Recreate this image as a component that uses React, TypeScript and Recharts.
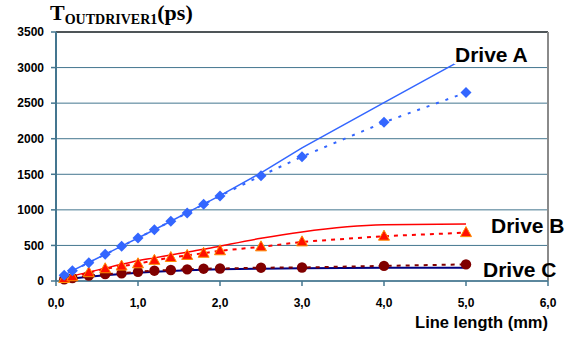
import React from 'react';
import { LineChart, Line, XAxis, YAxis, CartesianGrid, ReferenceLine } from 'recharts';

const lengths = [0.1, 0.2, 0.4, 0.6, 0.8, 1.0, 1.2, 1.4, 1.6, 1.8, 2.0, 2.5, 3.0, 4.0, 5.0];
const driveASim = [80, 145, 260, 375, 490, 605, 720, 840, 960, 1080, 1200, 1520, 1870, 2507, 3140];
const driveAMeas = [80, 145, 257, 375, 487, 604, 722, 839, 956, 1078, 1195, 1480, 1748, 2231, 2648];
const driveBSim = [40, 70, 125, 180, 235, 285, 325, 365, 405, 445, 490, 600, 690, 790, 800];
const driveBMeas = [35, 60, 117, 172, 210, 242, 290, 330, 360, 390, 425, 480, 550, 630, 680];
const driveCSim = [20, 35, 60, 80, 100, 115, 130, 140, 150, 158, 165, 172, 180, 186, 188];
const driveCMeas = [24, 40, 75, 96, 108, 129, 145, 155, 164, 173, 175, 187, 190, 213, 233];
const xTicks = [0, 1, 2, 3, 4, 5, 6];
const yTicks = [0, 500, 1000, 1500, 2000, 2500, 3000, 3500];
const seriesLabels = ['Drive A', 'Drive B', 'Drive C'];

const data = lengths.map((x, i) => ({
  x,
  aSim: driveASim[i],
  aMeas: driveAMeas[i],
  bSim: driveBSim[i],
  bMeas: driveBMeas[i],
  cSim: driveCSim[i],
  cMeas: driveCMeas[i],
}));

const GRID = '#44768F';
const BLUE = '#3366FF';
const RED = '#FF0000';
const DARKRED = '#800000';
const NAVY = '#000080';
const SANS = '"Liberation Sans", Arial, sans-serif';
const SERIF = '"Liberation Serif", "Times New Roman", serif';

const Diamond = (props: any) => {
  const { cx, cy, index } = props;
  if (cx == null || cy == null) return <g key={`d${index}`} />;
  const s = 5.5;
  return (
    <path
      key={`d${index}`}
      d={`M${cx},${cy - s}L${cx + s},${cy}L${cx},${cy + s}L${cx - s},${cy}Z`}
      fill={BLUE}
    />
  );
};

const Triangle = (props: any) => {
  const { cx, cy, index } = props;
  if (cx == null || cy == null) return <g key={`t${index}`} />;
  return (
    <path
      key={`t${index}`}
      d={`M${cx},${cy - 6}L${cx + 5.5},${cy + 4}L${cx - 5.5},${cy + 4}Z`}
      fill="#FF1000"
      stroke="#FF8C00"
      strokeWidth={1}
      strokeLinejoin="round"
    />
  );
};

const Dot = (props: any) => {
  const { cx, cy, index } = props;
  if (cx == null || cy == null) return <g key={`c${index}`} />;
  return <circle key={`c${index}`} cx={cx} cy={cy} r={5.2} fill={DARKRED} />;
};

const fmtX = (v: number) => v.toFixed(1).replace('.', ',');

const tickStyle = { fontFamily: SANS, fontWeight: 'bold', fontSize: 12, fill: '#000' };

export default function App() {
  return (
    <div style={{ position: 'absolute', left: 0, top: 0, width: 574, height: 338, background: '#fff' }}>
      <LineChart
        width={574}
        height={338}
        data={data}
        margin={{ top: 32, right: 26, left: 0, bottom: 0 }}
      >
        <CartesianGrid vertical={false} stroke={GRID} strokeWidth={1} />
        <XAxis
          type="number"
          dataKey="x"
          domain={[0, 6]}
          ticks={xTicks}
          tickFormatter={fmtX}
          height={57}
          tickSize={5}
          tickMargin={12}
          axisLine={{ stroke: GRID, strokeWidth: 1.5 }}
          tickLine={{ stroke: GRID, strokeWidth: 1.5 }}
          tick={tickStyle}
          interval={0}
        />
        <YAxis
          type="number"
          domain={[0, 3500]}
          ticks={yTicks}
          width={56}
          tickSize={5}
          tickMargin={7}
          axisLine={{ stroke: GRID, strokeWidth: 2 }}
          tickLine={{ stroke: GRID, strokeWidth: 1.5 }}
          tick={tickStyle}
          interval={0}
        />
        <ReferenceLine y={3500} stroke="#333333" strokeWidth={1.5} />
        <ReferenceLine x={6} stroke="#8A8A8A" strokeWidth={2} />
        <Line type="linear" dataKey="aSim" stroke={BLUE} strokeWidth={1.5} dot={false} isAnimationActive={false} />
        <Line type="monotone" dataKey="bSim" stroke={RED} strokeWidth={1.5} dot={false} isAnimationActive={false} />
        <Line type="linear" dataKey="cSim" stroke={NAVY} strokeWidth={2} dot={false} isAnimationActive={false} />
        <Line type="linear" dataKey="cMeas" stroke={DARKRED} strokeWidth={2} strokeDasharray="4 5" dot={Dot} isAnimationActive={false} />
        <Line type="linear" dataKey="bMeas" stroke={RED} strokeWidth={2} strokeDasharray="4 5" dot={Triangle} isAnimationActive={false} />
        <Line type="linear" dataKey="aMeas" stroke={BLUE} strokeWidth={2} strokeDasharray="3 7" dot={Diamond} isAnimationActive={false} />
      </LineChart>
      <svg
        width={574}
        height={338}
        style={{ position: 'absolute', left: 0, top: 0, pointerEvents: 'none' }}
      >
        <text x={50} y={20} fontFamily={SERIF} fontWeight="bold" fontSize={22} fill="#000">
          T
          <tspan fontSize={14} dy={4}>OUTDRIVER1</tspan>
          <tspan fontSize={22} dy={-4}>(ps)</tspan>
        </text>
        <text x={548} y={328} textAnchor="end" fontFamily={SANS} fontWeight="bold" fontSize={16.5} fill="#000">
          Line length (mm)
        </text>
        <rect x={454} y={44} width={78} height={20} fill="#fff" />
        <text x={455} y={61.5} fontFamily={SANS} fontWeight="bold" fontSize={21} fill="#000">{seriesLabels[0]}</text>
        <text x={491} y={232.5} fontFamily={SANS} fontWeight="bold" fontSize={21} fill="#000">{seriesLabels[1]}</text>
        <text x={483} y={277} fontFamily={SANS} fontWeight="bold" fontSize={21} fill="#000">{seriesLabels[2]}</text>
      </svg>
    </div>
  );
}
